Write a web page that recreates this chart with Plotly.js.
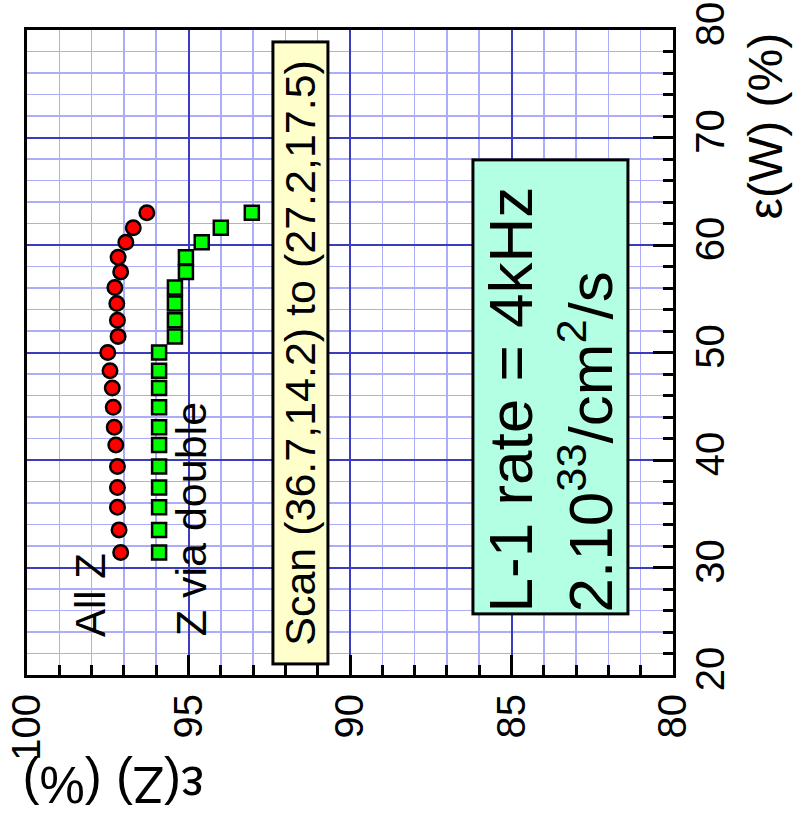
<!DOCTYPE html>
<html>
<head>
<meta charset="utf-8">
<script src="https://cdn.plot.ly/plotly-3.0.1.min.js"></script>
<style>
  html, body { margin: 0; padding: 0; background: #fff; }
  #chart { width: 798px; height: 821px; }
</style>
</head>
<body>
<div id="chart"></div>
<script>
// ε(W) values (%) – shared by both scans
const effW = [63.0, 61.6, 60.25, 58.85, 57.5, 56.05, 54.55, 53.0, 51.5, 50.0,
              48.3, 46.7, 44.9, 43.05, 41.4, 39.4, 37.45, 35.6, 33.5, 31.4];
// ε(Z) values (%) – all Z
const effZall = [96.29, 96.71, 96.94, 97.18, 97.10, 97.28, 97.22, 97.20, 97.18, 97.50,
                 97.43, 97.36, 97.33, 97.30, 97.25, 97.20, 97.20, 97.20, 97.15, 97.10];
// ε(Z) values (%) – Z via double
const effZdouble = [93.04, 94.00, 94.59, 95.08, 95.08, 95.42, 95.42, 95.42, 95.42, 95.91,
                    95.91, 95.91, 95.91, 95.91, 95.91, 95.91, 95.91, 95.91, 95.91, 95.91];

const xTitle = 'ε(Z) (%)';
const yTitle = 'ε(W) (%)';
const scanText = 'Scan (36.7,14.2) to (27.2,17.5)';
const rateText = 'L-1 rate = 4kHz<br>2.10<sup>33</sup>/cm<sup>2</sup>/s';

const FONT = 'Liberation Sans, Arial, Helvetica, sans-serif';

const traces = [
  {
    x: effZall, y: effW, type: 'scatter', mode: 'markers', name: 'All Z',
    marker: { symbol: 'circle', size: 14.5, color: '#ff0000', line: { color: '#000', width: 2.5 } },
    showlegend: false
  },
  {
    x: effZdouble, y: effW, type: 'scatter', mode: 'markers', name: 'Z via double',
    marker: { symbol: 'square', size: 14, color: '#00ff00', line: { color: '#000', width: 2.5 } },
    showlegend: false
  }
];

const axisCommon = {
  showline: true, linewidth: 3, linecolor: '#000', mirror: true,
  ticks: 'inside', ticklen: 20, tickwidth: 3, tickcolor: '#000',
  showgrid: true, gridcolor: '#3c3cbe', gridwidth: 2,
  zeroline: false,
  tickfont: { family: FONT, size: 40, color: '#000' },
  tickangle: -90
};

const layout = {
  width: 798, height: 821,
  margin: { l: 27, r: 125, t: 30, b: 146, pad: 0 },
  paper_bgcolor: '#fff', plot_bgcolor: '#fff',
  font: { family: FONT, color: '#000' },
  xaxis: Object.assign({}, axisCommon, {
    range: [100, 80], tick0: 0, dtick: 5,
    minor: { dtick: 1, ticks: 'inside', ticklen: 10, tickwidth: 3, tickcolor: '#000',
             showgrid: true, gridcolor: '#adadf7', gridwidth: 1.5 }
  }),
  yaxis: Object.assign({}, axisCommon, {
    range: [20, 80], tick0: 0, dtick: 10, side: 'right',
    minor: { dtick: 2, ticks: 'inside', ticklen: 10, tickwidth: 3, tickcolor: '#000',
             showgrid: true, gridcolor: '#adadf7', gridwidth: 1.5 }
  }),
  annotations: [
    { xref: 'paper', yref: 'paper', x: 0.133, y: -0.170, xanchor: 'center', yanchor: 'middle',
      text: xTitle, showarrow: false,
      textangle: 180, font: { family: FONT, size: 51, color: '#000' } },
    { xref: 'paper', yref: 'paper', x: 1.143, y: 0.851, xanchor: 'center', yanchor: 'middle',
      text: yTitle, showarrow: false,
      textangle: -90, font: { family: FONT, size: 48, color: '#000' } },
    { xref: 'x', yref: 'y', x: 91.55, y: 50.0, text: scanText, showarrow: false,
      textangle: -90, font: { family: FONT, size: 43, color: '#000' },
      bgcolor: '#ffffcc', bordercolor: '#000', borderwidth: 3, borderpad: 0,
      width: 619, height: 52 },
    { xref: 'x', yref: 'y', x: 83.78, y: 46.84, text: rateText, showarrow: false,
      textangle: -90, align: 'left', font: { family: FONT, size: 62, color: '#000' },
      bgcolor: '#b3ffe3', bordercolor: '#000', borderwidth: 3, borderpad: 0,
      width: 451, height: 152 },
    { xref: 'x', yref: 'y', x: 98.05, y: 27.44, text: 'All Z', showarrow: false,
      textangle: -90, font: { family: FONT, size: 42, color: '#000' } },
    { xref: 'x', yref: 'y', x: 94.92, y: 34.5, text: 'Z via double', showarrow: false,
      textangle: -90, font: { family: FONT, size: 43, color: '#000' } }
  ]
};

Plotly.newPlot('chart', traces, layout, { displayModeBar: false, staticPlot: true });
</script>
</body>
</html>
